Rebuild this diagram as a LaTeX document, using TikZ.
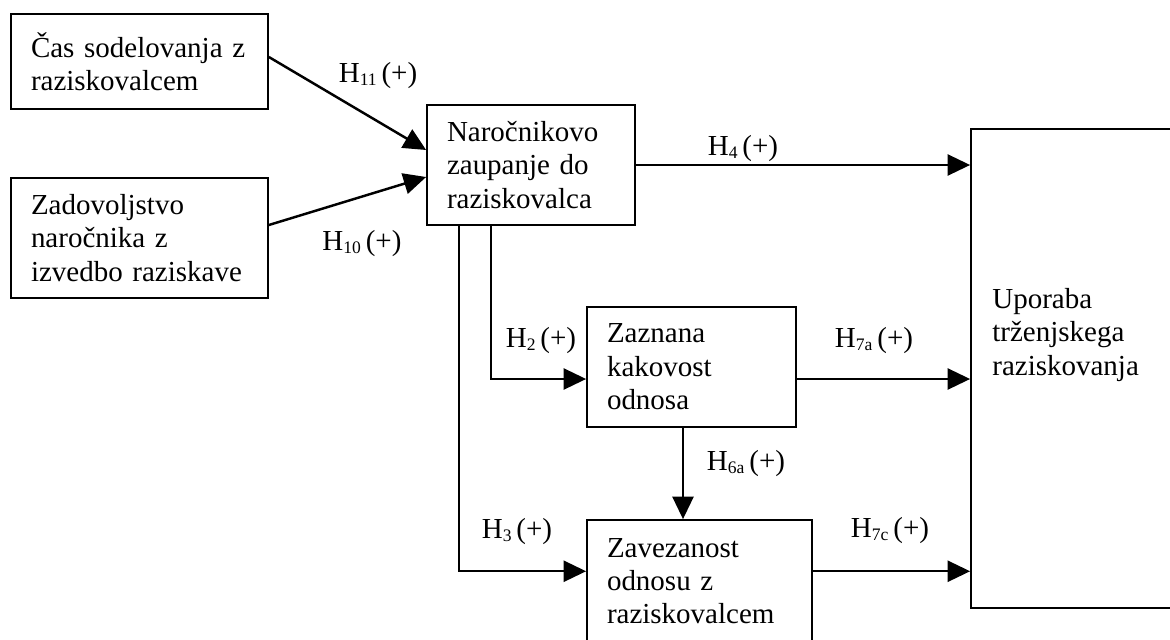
\documentclass[tikz,border=0pt]{standalone}
\usepackage{fontspec}
\setmainfont{Liberation Serif}
\usepackage{tikz}
\usetikzlibrary{arrows.meta}
\newcommand{\hyp}[1]{H\raisebox{-0.12em}{\fontsize{10}{10}\selectfont #1}\,(+)}

\begin{document}
\begin{tikzpicture}[font=\fontsize{16.5}{19}\selectfont,
  box/.style={draw, line width=1pt, inner xsep=0.4cm, inner ysep=0pt, align=left},
  link/.style={line width=1.4pt, -{Triangle[length=0.45cm, width=0.42cm]}},
  hlabel/.style={anchor=base, inner sep=0pt}]
  \useasboundingbox (0,0) rectangle (23.4,-12.78);

  \node[box, text width=4.34cm, minimum height=1.90cm] (time) at (2.79,-1.23) {Čas sodelovanja z\\raziskovalcem};
  \node[box, text width=4.34cm, minimum height=2.40cm] (satisf) at (2.79,-4.76) {Zadovoljstvo\\naročnika z\\izvedbo raziskave};
  \node[box, text width=3.36cm, minimum height=2.40cm] (trust) at (10.62,-3.30) {Naročnikovo\\zaupanje do\\raziskovalca};
  \node[box, text width=3.38cm, minimum height=2.40cm] (quality) at (13.83,-7.34) {Zaznana\\kakovost\\odnosa};
  \node[box, text width=3.70cm, minimum height=2.45cm] (commit) at (13.99,-11.625) {Zavezanost\\odnosu z\\raziskovalcem};
  \node[draw, line width=1pt, minimum width=4.38cm, minimum height=9.58cm] (use) at (21.61,-7.37) {};
  \node[anchor=north west, inner sep=0pt, align=left] (usetext) at (19.84,-5.76) {Uporaba\\trženjskega\\raziskovanja};

  \draw[link] ([yshift=0.09cm]time.east) -- ([yshift=0.30cm]trust.west);
  \draw[link] ([yshift=0.26cm]satisf.east) -- ([yshift=-0.24cm]trust.west);
  \draw[link] (trust.east) -- (trust.east -| use.west);
  \draw[link] ([xshift=-0.80cm]trust.south) |- ([yshift=-0.24cm]quality.west);
  \draw[link] ([xshift=-1.44cm]trust.south) |- ([yshift=0.20cm]commit.west);
  \draw[link] ([yshift=-0.24cm]quality.east) -- ([yshift=-0.24cm]quality.east -| use.west);
  \draw[link] ([xshift=-0.17cm]quality.south) -- ([xshift=-0.17cm]quality.south |- commit.north);
  \draw[link] ([yshift=0.20cm]commit.east) -- ([yshift=0.20cm]commit.east -| use.west);

  \node[hlabel] (h11) at (7.56,-1.64) {\hyp{11}};
  \node[hlabel] (h10) at (7.24,-5.00) {\hyp{10}};
  \node[hlabel] (h4) at (14.86,-3.10) {\hyp{4}};
  \node[hlabel] (h2) at (10.82,-6.94) {\hyp{2}};
  \node[hlabel] (h6a) at (14.92,-9.40) {\hyp{6a}};
  \node[hlabel] (h3) at (10.34,-10.76) {\hyp{3}};
  \node[hlabel] (h7a) at (17.48,-6.94) {\hyp{7a}};
  \node[hlabel] (h7c) at (17.80,-10.74) {\hyp{7c}};
\end{tikzpicture}
\end{document}
